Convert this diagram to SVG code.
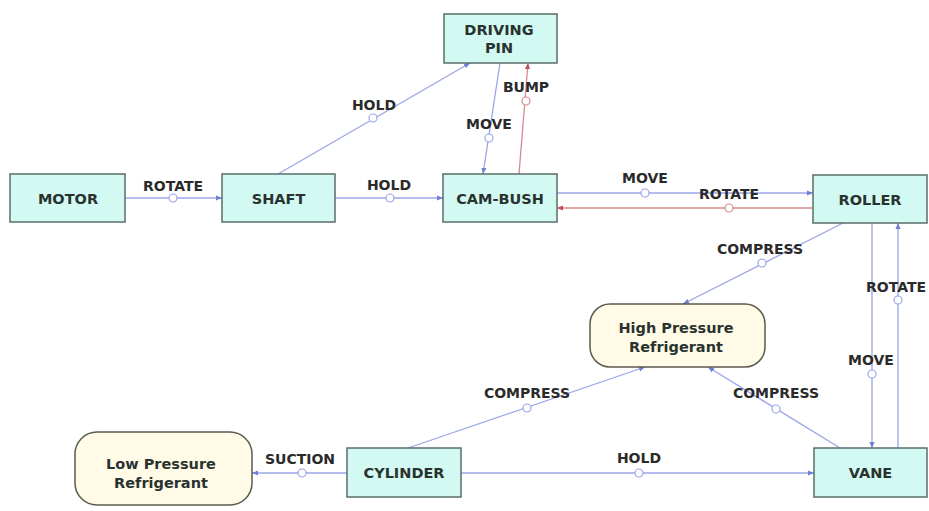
<svg xmlns="http://www.w3.org/2000/svg" width="929" height="511" viewBox="0 0 929 511">
<defs>
<marker id="ab" viewBox="0 0 8 8" refX="7" refY="4" markerWidth="7" markerHeight="7" orient="auto" markerUnits="userSpaceOnUse"><path d="M0,1 L7,4 L0,7 Z" fill="#6f7fd6"/></marker>
<marker id="ar" viewBox="0 0 8 8" refX="7" refY="4" markerWidth="7" markerHeight="7" orient="auto" markerUnits="userSpaceOnUse"><path d="M0,1 L7,4 L0,7 Z" fill="#c0505a"/></marker>
</defs>
<style>
.box{fill:#d2faf2;stroke:#5b6e6a;stroke-width:1.5}
.rnd{fill:#fffbe6;stroke:#5b5b4e;stroke-width:1.5}
.nt{font-family:"DejaVu Sans","Liberation Sans",sans-serif;font-weight:bold;font-size:14.5px;fill:#2a3230;text-anchor:middle}
.lt{font-family:"DejaVu Sans","Liberation Sans",sans-serif;font-weight:bold;font-size:14px;fill:#2a2a2a;text-anchor:middle}
.cb{fill:none;stroke:#9aa6e6;stroke-width:1.3}
.cr{fill:none;stroke:#d48a8e;stroke-width:1.3}
.ob{fill:#fff;stroke:#9aa6e6;stroke-width:1.2}
.or{fill:#fff;stroke:#d48a8e;stroke-width:1.2}
</style>
<rect width="929" height="511" fill="#fff"/>
<g id="connectors">
<line class="cb" x1="125" y1="198" x2="222" y2="198" marker-end="url(#ab)"/>
<circle class="ob" cx="173" cy="198" r="4"/>
<text class="lt" x="173" y="191">ROTATE</text>

<line class="cb" x1="278" y1="174" x2="470" y2="63" marker-end="url(#ab)"/>
<circle class="ob" cx="373" cy="118" r="4"/>
<text class="lt" x="374" y="110">HOLD</text>

<line class="cb" x1="335" y1="198" x2="443" y2="198" marker-end="url(#ab)"/>
<circle class="ob" cx="390" cy="198" r="4"/>
<text class="lt" x="389" y="190">HOLD</text>

<line class="cb" x1="500" y1="63" x2="483" y2="174" marker-end="url(#ab)"/>
<circle class="ob" cx="489" cy="138" r="4"/>
<text class="lt" x="489" y="129">MOVE</text>

<line class="cr" x1="519" y1="174" x2="528" y2="63" marker-end="url(#ar)"/>
<circle class="or" cx="526" cy="101" r="4"/>
<text class="lt" x="526" y="92">BUMP</text>

<line class="cb" x1="557" y1="193" x2="813" y2="193" marker-end="url(#ab)"/>
<circle class="ob" cx="645" cy="193" r="4"/>
<text class="lt" x="645" y="183">MOVE</text>

<line class="cr" x1="813" y1="208" x2="557" y2="208" marker-end="url(#ar)"/>
<circle class="or" cx="729" cy="208" r="4"/>
<text class="lt" x="729" y="199">ROTATE</text>

<line class="cb" x1="843" y1="223" x2="683" y2="304" marker-end="url(#ab)"/>
<circle class="ob" cx="762" cy="263" r="4"/>
<text class="lt" x="760" y="254">COMPRESS</text>

<line class="cb" x1="872" y1="223" x2="872" y2="448" marker-end="url(#ab)"/>
<circle class="ob" cx="872" cy="374" r="4"/>
<text class="lt" x="871" y="365">MOVE</text>

<line class="cb" x1="898" y1="448" x2="898" y2="223" marker-end="url(#ab)"/>
<circle class="ob" cx="898" cy="300" r="4"/>
<text class="lt" x="896" y="292">ROTATE</text>

<line class="cb" x1="840" y1="448" x2="708" y2="367" marker-end="url(#ab)"/>
<circle class="ob" cx="776" cy="409" r="4"/>
<text class="lt" x="776" y="398">COMPRESS</text>

<line class="cb" x1="408" y1="448" x2="645" y2="367" marker-end="url(#ab)"/>
<circle class="ob" cx="527" cy="408" r="4"/>
<text class="lt" x="527" y="398">COMPRESS</text>

<line class="cb" x1="461" y1="473" x2="814" y2="473" marker-end="url(#ab)"/>
<circle class="ob" cx="639" cy="473" r="4"/>
<text class="lt" x="639" y="463">HOLD</text>

<line class="cb" x1="347" y1="473" x2="252" y2="473" marker-end="url(#ab)"/>
<circle class="ob" cx="302" cy="473" r="4"/>
<text class="lt" x="300" y="464">SUCTION</text>
</g>
<g id="motor"><rect class="box" x="10" y="174" width="115" height="48"/><text class="nt" x="68" y="204">MOTOR</text></g>
<g id="shaft"><rect class="box" x="222" y="174" width="113" height="48"/><text class="nt" x="278.5" y="204">SHAFT</text></g>
<g id="cam-bush"><rect class="box" x="443" y="174" width="114" height="48"/><text class="nt" x="500" y="204">CAM-BUSH</text></g>
<g id="driving-pin"><rect class="box" x="444" y="14" width="113" height="49"/><text class="nt" x="499" y="35">DRIVING</text><text class="nt" x="499" y="53">PIN</text></g>
<g id="roller"><rect class="box" x="813" y="175" width="114" height="48"/><text class="nt" x="870" y="205">ROLLER</text></g>
<g id="vane"><rect class="box" x="814" y="448" width="113" height="49"/><text class="nt" x="870.5" y="478">VANE</text></g>
<g id="cylinder"><rect class="box" x="347" y="448" width="114" height="49"/><text class="nt" x="404" y="478">CYLINDER</text></g>
<g id="high-pressure"><rect class="rnd" x="590" y="304" width="175" height="63" rx="20" ry="20"/><text class="nt" x="676" y="333">High Pressure</text><text class="nt" x="676" y="352">Refrigerant</text></g>
<g id="low-pressure"><rect class="rnd" x="75" y="432" width="177" height="73" rx="22" ry="22"/><text class="nt" x="161" y="469">Low Pressure</text><text class="nt" x="161" y="488">Refrigerant</text></g>
</svg>
